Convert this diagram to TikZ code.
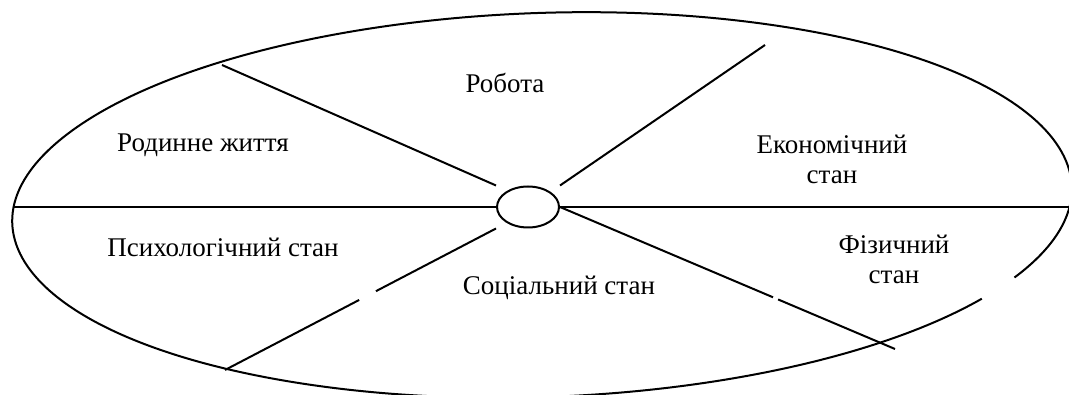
\documentclass[tikz,border=0pt]{standalone}
\usepackage{fontspec}
\setmainfont{Liberation Serif}
\usetikzlibrary{shapes.geometric,calc}

\begin{document}
\begin{tikzpicture}[x=0.5pt, y=0.5pt, line width=1pt,
  sector/.style={align=center, font=\fontsize{13.5}{15}\selectfont, inner sep=0pt},
  hubshape/.style={draw, ellipse, minimum width=31pt, minimum height=20.5pt, inner sep=0pt}]
  \clip (0,0) rectangle (1069,395);

  % outer ring, broken at the lower right
  \begin{scope}[shift={(542,190)}, rotate=2]
    \draw (-27.6:530 and 192) arc[start angle=-27.6, end angle=325.4, x radius=530, y radius=192];
  \end{scope}

  % centre
  \node[hubshape] (hub) at (528,188) {};
  \coordinate (hubnw) at (hub.north -| hub.west);
  \coordinate (hubne) at (hub.north -| hub.east);
  \coordinate (hubsw) at (hub.south -| hub.west);

  % spoke ends
  \coordinate (leftend) at (13,188);
  \coordinate (rightend) at (1069,188);
  \coordinate (famend) at (222,330);
  \coordinate (workend) at (765,350);
  \coordinate (socend) at (225,25);
  \coordinate (physend) at (895,46);

  % spokes
  \draw (leftend) -- (hub.west);
  \draw (hub.east) -- (rightend);
  \draw (hubnw) -- (famend);
  \draw (hubne) -- (workend);
  \draw (hubsw) -- ($(hubsw)!0.443!(socend)$);
  \draw ($(hubsw)!0.505!(socend)$) -- (socend);
  \draw (hub.east) -- ($(hub.east)!0.636!(physend)$);
  \draw ($(hub.east)!0.651!(physend)$) -- (physend);

  % sectors
  \node[sector] (work) at (505,312) {Робота};
  \node[sector] (family) at (203,250) {Родинне життя};
  \node[sector] (econ) at (832,236) {Економічний\\стан};
  \node[sector] (psych) at (223,148) {Психологічний стан};
  \node[sector] (social) at (559,107) {Соціальний стан};
  \node[sector] (phys) at (894,136) {Фізичний\\стан};
\end{tikzpicture}
\end{document}
